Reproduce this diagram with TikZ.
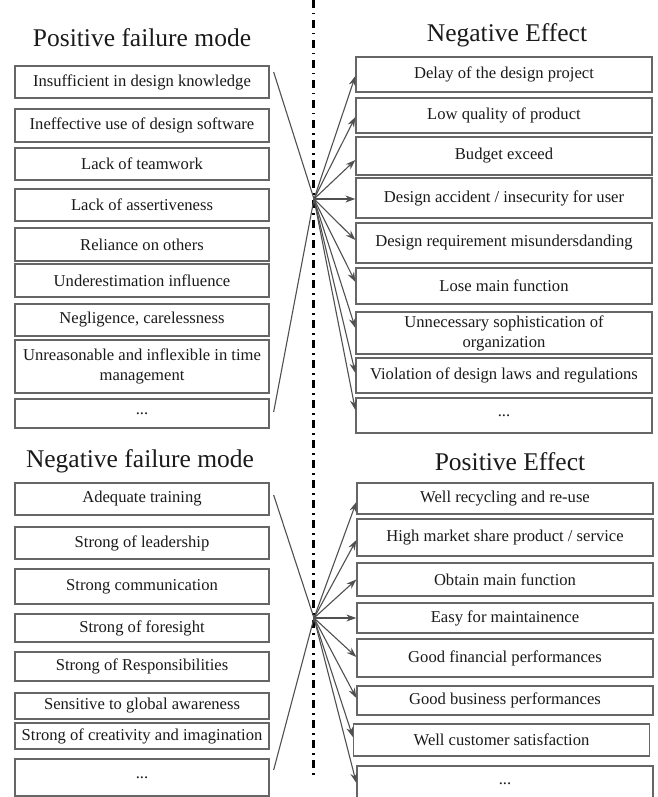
\documentclass[tikz,border=0pt]{standalone}
\usepackage{fontspec}
\setmainfont{Liberation Serif}
\usetikzlibrary{arrows.meta}
\definecolor{boxgray}{HTML}{666666}
\definecolor{linegray}{HTML}{505050}
\definecolor{txt}{HTML}{1A1A1A}
\begin{document}
\begin{tikzpicture}[x=1pt,y=-1pt,
  lbox/.style={draw=boxgray, line width=1.3pt, minimum width=254pt, minimum height=#1, inner sep=0pt, align=center, text=txt, font=\fontsize{16.6}{20}\selectfont},
  rbox/.style={lbox=#1, minimum width=296pt},
  ttl/.style={anchor=base, text=txt, font=\fontsize{25.5}{30}\selectfont, inner sep=0pt},
  feed/.style={draw=linegray, line width=1.1pt},
  arr/.style={feed, -{Stealth[length=10pt,width=7pt]}},
  sep/.style={draw=black, line width=2.3pt, dash pattern=on 8pt off 5pt on 1.5pt off 5.5pt}]
\useasboundingbox (0,0) rectangle (657,797);

% separator
\coordinate (s1) at (313.5,0);
\coordinate (s2) at (313.5,775);
\draw[sep] (s1) -- (s2);

% titles
\node[ttl] (t1) at (142,47) {Positive failure mode};
\node[ttl] (t2) at (507,42) {Negative Effect};
\node[ttl] (t3) at (140,467) {Negative failure mode};
\node[ttl] (t4) at (510,470) {Positive Effect};

% top left
\node[lbox=32pt] (a1) at (142,82) {Insufficient in design knowledge};
\node[lbox=33pt] (a2) at (142,125.5) {Ineffective use of design software};
\node[lbox=32pt] (a3) at (142,164) {Lack of teamwork};
\node[lbox=32pt] (a4) at (142,205) {Lack of assertiveness};
\node[lbox=33pt] (a5) at (142,244.5) {Reliance on others};
\node[lbox=33pt] (a6) at (142,280.5) {Underestimation influence};
\node[lbox=32pt] (a7) at (142,320) {Negligence, carelessness};
\node[lbox=53pt] (a8) at (142,366.5) {Unreasonable and inflexible in time\\management};
\node[lbox=29pt] (a9) at (142,413.5) {...};

% top right
\node[rbox=35pt] (b1) at (504,74.5) {Delay of the design project};
\node[rbox=35pt] (b2) at (504,115.5) {Low quality of product};
\node[rbox=38pt] (b3) at (504,156) {Budget exceed};
\node[rbox=40pt] (b4) at (504,198) {Design accident / insecurity for user};
\node[rbox=40pt] (b5) at (504,243) {Design requirement misundersdanding};
\node[rbox=36pt] (b6) at (504,286) {Lose main function};
\node[rbox=42pt] (b7) at (504,333) {Unnecessary sophistication of\\organization};
\node[rbox=35pt] (b8) at (504,375.5) {Violation of design laws and regulations};
\node[rbox=35pt] (b9) at (504,415.5) {...};

% bottom left
\node[lbox=32pt] (c1) at (142,499) {Adequate training};
\node[lbox=32pt] (c2) at (142,543) {Strong of leadership};
\node[lbox=35pt] (c3) at (142,586.5) {Strong communication};
\node[lbox=28pt] (c4) at (142,628) {Strong of foresight};
\node[lbox=29pt] (c5) at (142,666.5) {Strong of Responsibilities};
\node[lbox=26pt] (c6) at (142,706) {Sensitive to global awareness};
\node[lbox=26pt] (c7) at (142,736) {Strong of creativity and imagination};
\node[lbox=37pt] (c8) at (142,777.5) {...};

% bottom right
\node[rbox=31pt] (d1) at (505,498.5) {Well recycling and re-use};
\node[rbox=37pt] (d2) at (505,537.5) {High market share product / service};
\node[rbox=33pt] (d3) at (505,579.5) {Obtain main function};
\node[rbox=30pt] (d4) at (505,618) {Easy for maintainence};
\node[rbox=38pt] (d5) at (505,658) {Good financial performances};
\node[rbox=29pt] (d6) at (505,700.5) {Good business performances};
\node[rbox=32pt] (d7) at (501.5,740) {Well customer satisfaction};
\node[rbox=36pt] (d8) at (505,784) {...};

% hubs
\coordinate (h1) at (314,199);
\coordinate (h2) at (314,618);

% top connectors
\draw[feed] ([xshift=4pt,yshift=10pt]a1.east) -- (h1);
\draw[feed] ([xshift=4pt,yshift=1.5pt]a9.east) -- (h1);
\draw[arr] (h1) -- ([yshift=-1.5pt]b1.west);
\draw[arr] (h1) -- ([yshift=-1.5pt]b2.west);
\draw[arr] (h1) -- ([yshift=-4pt]b3.west);
\draw[arr] (h1) -- ([yshift=-1pt]b4.west);
\draw[arr] (h1) -- ([yshift=3pt]b5.west);
\draw[arr] (h1) -- ([yshift=4pt]b6.west);
\draw[arr] (h1) -- ([yshift=5pt]b7.west);
\draw[arr] (h1) -- ([yshift=2.5pt]b8.west);
\draw[arr] (h1) -- ([yshift=5.5pt]b9.west);

% bottom connectors
\draw[feed] ([xshift=4pt,yshift=4pt]c1.east) -- (h2);
\draw[feed] ([xshift=4pt,yshift=7.5pt]c8.east) -- (h2);
\draw[arr] (h2) -- ([yshift=-3.5pt]d1.west);
\draw[arr] (h2) -- ([yshift=-2.5pt]d2.west);
\draw[arr] (h2) -- (d3.west);
\draw[arr] (h2) -- (d4.west);
\draw[arr] (h2) -- ([yshift=1pt]d5.west);
\draw[arr] (h2) -- ([yshift=2.5pt]d6.west);
\draw[arr] (h2) -- ([yshift=3pt]d7.west);
\draw[arr] (h2) -- ([yshift=1pt]d8.west);
\end{tikzpicture}
\end{document}
